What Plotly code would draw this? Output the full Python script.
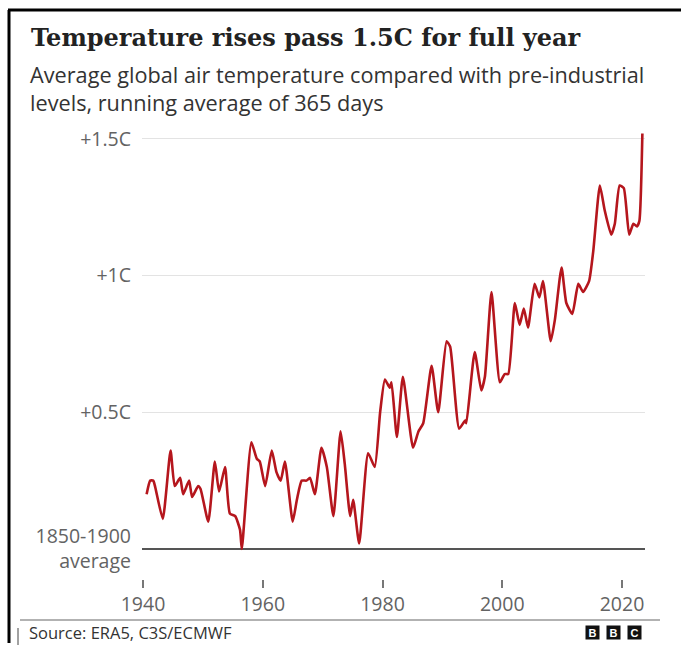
import plotly.graph_objects as go

# ---- data ----
years = [1940.6, 1941.2, 1941.7, 1942.0, 1943.3, 1944.6, 1945.3, 1946.2, 1946.7, 1947.7,
         1948.2, 1949.2, 1949.6, 1950.9, 1952.0, 1952.7, 1953.7, 1954.5, 1955.4, 1956.2,
         1956.5, 1958.1, 1959.0, 1959.5, 1960.4, 1961.5, 1962.3, 1963.0, 1963.7, 1965.0,
         1965.7, 1966.5, 1967.3, 1967.9, 1968.7, 1969.8, 1970.7, 1971.8, 1973.0, 1973.7,
         1974.6, 1975.1, 1976.1, 1977.6, 1978.7, 1979.6, 1980.4, 1981.2, 1981.5, 1982.4,
         1983.4, 1985.1, 1986.0, 1986.8, 1988.2, 1989.3, 1990.7, 1991.3, 1992.8, 1993.8,
         1994.0, 1995.4, 1996.5, 1997.1, 1998.2, 1999.6, 2000.4, 2001.0, 2002.1, 2002.9,
         2003.6, 2004.3, 2005.4, 2006.2, 2006.8, 2008.1, 2008.8, 2009.9, 2010.7, 2011.7,
         2012.7, 2013.5, 2014.5, 2015.2, 2016.3, 2017.1, 2018.2, 2018.8, 2019.6, 2020.3,
         2021.2, 2021.9, 2022.5, 2022.9, 2023.4]
anomaly = [0.20, 0.25, 0.25, 0.23, 0.11, 0.36, 0.23, 0.26, 0.20, 0.25,
           0.19, 0.23, 0.22, 0.10, 0.32, 0.21, 0.30, 0.13, 0.12, 0.07,
           0.00, 0.39, 0.33, 0.32, 0.23, 0.36, 0.28, 0.25, 0.32, 0.10,
           0.18, 0.25, 0.25, 0.26, 0.20, 0.37, 0.30, 0.12, 0.43, 0.31,
           0.12, 0.18, 0.02, 0.35, 0.30, 0.50, 0.62, 0.59, 0.61, 0.41,
           0.63, 0.37, 0.43, 0.46, 0.67, 0.50, 0.76, 0.74, 0.44, 0.47,
           0.46, 0.72, 0.58, 0.63, 0.94, 0.61, 0.64, 0.64, 0.90, 0.82,
           0.88, 0.81, 0.97, 0.92, 0.98, 0.76, 0.84, 1.03, 0.90, 0.86,
           0.97, 0.94, 0.98, 1.09, 1.33, 1.24, 1.15, 1.19, 1.33, 1.32,
           1.15, 1.19, 1.18, 1.20, 1.52]

y_tickvals = [0, 0.5, 1, 1.5]
y_ticktext = ["1850-1900<br>average", "+0.5C", "+1C", "+1.5C"]
x_tickvals = [1940, 1960, 1980, 2000, 2020]
x_ticktext = ["1940", "1960", "1980", "2000", "2020"]

title_text = "Temperature rises pass 1.5C for full year"
subtitle_text = "Average global air temperature compared with pre-industrial<br>levels, running average of 365 days"
source_text = "Source: ERA5, C3S/ECMWF"

# ---- layout geometry (pixels) ----
W, H = 681, 645
L, R, T, B = 142, 645, 125, 579
PLOT_BOTTOM = 555


def px(x):
    return (x - L) / (R - L)


def py(y):
    return (B - y) / (B - T)


SANS = "Open Sans, Liberation Sans, Arial, sans-serif"
SERIF = "DejaVu Serif, Liberation Serif, serif"
TICK_COLOR = "#636363"

fig = go.Figure()
fig.add_trace(go.Scatter(
    x=years, y=anomaly, mode="lines",
    line=dict(color="#b5161d", width=2.6, shape="spline", smoothing=0.5),
    hoverinfo="skip", showlegend=False,
))

fig.update_layout(
    width=W, height=H,
    margin=dict(l=L, r=W - R, t=T, b=H - B, pad=0),
    paper_bgcolor="white", plot_bgcolor="white",
    xaxis=dict(
        range=[1939.83, 2023.84], tickvals=x_tickvals, ticktext=x_ticktext,
        showgrid=False, zeroline=False, showline=False,
        ticks="outside", ticklen=8, tickwidth=1.5, tickcolor="#777",
        anchor="free", position=0,
        tickfont=dict(family=SANS, size=19.5, color=TICK_COLOR),
    ),
    yaxis=dict(
        domain=[(B - PLOT_BOTTOM) / (B - T), 1],
        range=[-0.0222, 1.5512], tickvals=y_tickvals, ticktext=y_ticktext,
        showgrid=True, gridcolor="#e3e3e3", gridwidth=1,
        zeroline=True, zerolinecolor="#555555", zerolinewidth=2,
        showline=False, ticks="", ticklabelstandoff=10,
        tickfont=dict(family=SANS, size=19.5, color=TICK_COLOR),
    ),
)

annotations = [
    dict(text="<b>" + title_text + "</b>", x=px(29), y=py(38), xref="paper", yref="paper",
         xanchor="left", yanchor="middle", showarrow=False,
         font=dict(family=SERIF, size=24, color="#222222")),
    dict(text=subtitle_text, x=px(28), y=py(58), xref="paper", yref="paper",
         xanchor="left", yanchor="top", showarrow=False, align="left",
         font=dict(family=SANS, size=21.7, color="#333333")),
    dict(text=source_text, x=px(27), y=py(632), xref="paper", yref="paper",
         xanchor="left", yanchor="middle", showarrow=False,
         font=dict(family=SANS, size=16.5, color="#333333")),
]
for cx, letter in zip([592, 613, 634], ["B", "B", "C"]):
    annotations.append(dict(
        text="<b>" + letter + "</b>", x=px(cx), y=py(632), xref="paper", yref="paper",
        xanchor="center", yanchor="middle", showarrow=False,
        bgcolor="#111111", width=13, height=13, borderpad=0,
        font=dict(family="Liberation Sans, Arial, sans-serif", size=11, color="white")))
fig.update_layout(annotations=annotations)

shapes = [
    # frame
    dict(type="line", xref="paper", yref="paper", x0=px(8), x1=px(681), y0=py(10), y1=py(10),
         line=dict(color="black", width=3)),
    dict(type="line", xref="paper", yref="paper", x0=px(9), x1=px(9), y0=py(10), y1=py(643),
         line=dict(color="black", width=3)),
    # source divider
    dict(type="line", xref="paper", yref="paper", x0=px(20), x1=px(660), y0=py(620), y1=py(620),
         line=dict(color="#999999", width=1.5)),
    dict(type="line", xref="paper", yref="paper", x0=px(18), x1=px(18), y0=py(628), y1=py(645),
         line=dict(color="#444444", width=1)),
]
fig.update_layout(shapes=shapes)

fig.write_html(
    "out.html",
    config={"displayModeBar": False},
    post_script="document.body.style.margin='0';document.body.style.overflow='hidden';",
)
